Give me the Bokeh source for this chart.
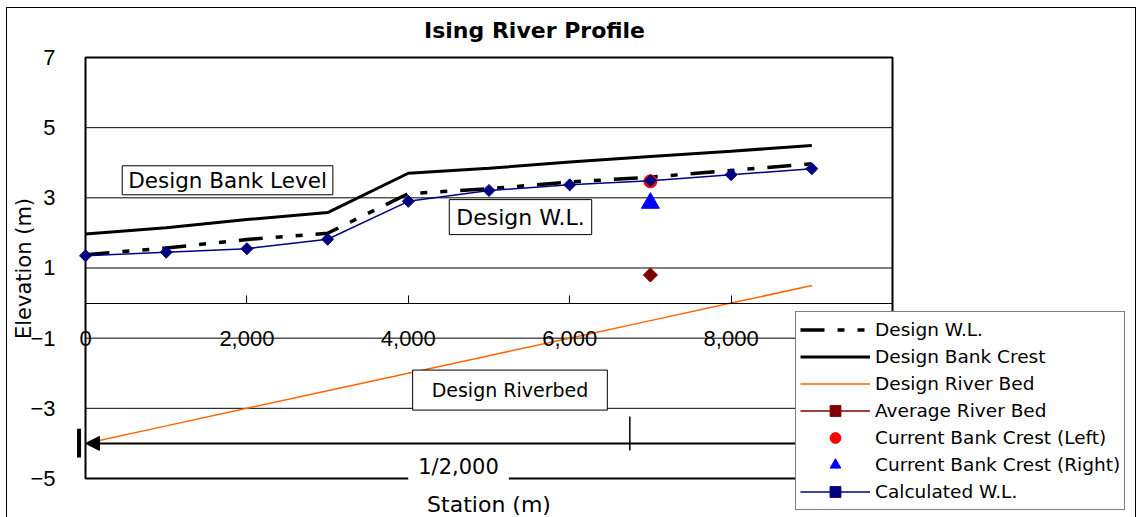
import numpy as np
from bokeh.plotting import figure
from bokeh.models import (Range1d, LinearAxis, FixedTicker, NumeralTickFormatter, Legend,
                          LegendItem, Label, Arrow, NormalHead)
from bokeh.embed import file_html
from bokeh.resources import INLINE

# ---------------- data ----------------
station = [0, 1000, 2000, 3000, 4000, 5000, 6000, 7000, 8000, 9000]
design_wl = [1.38, 1.57, 1.81, 1.99, 3.12, 3.26, 3.45, 3.59, 3.78, 3.97]
design_bank_crest = [1.97, 2.15, 2.38, 2.58, 3.70, 3.84, 4.02, 4.18, 4.33, 4.49]
design_river_bed = [-4.0, -3.5, -3.0, -2.5, -2.0, -1.5, -1.0, -0.5, 0.0, 0.5]
calculated_wl = [1.35, 1.45, 1.55, 1.82, 2.90, 3.21, 3.37, 3.49, 3.66, 3.83]

survey_station = [7000]
average_river_bed = [0.80]
current_bank_left = [3.47]
current_bank_right = [2.85]

x_ticks = [0, 2000, 4000, 6000, 8000, 10000]
y_ticks = [-5, -3, -1, 1, 3, 5, 7]
y_tick_labels = ["\u22125", "\u22123", "\u22121", "1", "3", "5", "7"]
grid_levels = [-3, -1, 1, 3, 5]

title_text = "Ising River Profile"
series_names = ["Design W.L.", "Design Bank Crest", "Design River Bed", "Average River Bed",
                "Current Bank Crest (Left)", "Current Bank Crest (Right)", "Calculated W.L."]

slope_text = "1/2,000"
slope_arrow_x = [8920, 0]
slope_arrow_y = -4
slope_bar_x = [-80]
slope_bar_y = [-3.58, -4.40]
slope_tick_x = [6745]
slope_tick_y = [-3.23, -4.2]

# Excel plot-area extent, drawn inside a wider frame
area_x = [0, 10000]
area_y = [-5, 7]

# ---------------- figure ----------------
p = figure(width=1128, height=509, output_backend="svg", toolbar_location=None,
           x_range=Range1d(-124, 13011), y_range=Range1d(-6.112, 8.083),
           x_axis_location=None, y_axis_location="left",
           min_border_left=68, min_border_right=0, min_border_top=11, min_border_bottom=0)
p.styles = {"margin-left": "7px", "margin-top": "8px", "outline": "1px solid black"}

p.background_fill_color = "white"
p.border_fill_color = "white"
p.outline_line_color = None

# y axis
yaxis = p.yaxis[0]
yaxis.ticker = FixedTicker(ticks=y_ticks)
yaxis.major_label_overrides = dict(zip(y_ticks, y_tick_labels))
yaxis.major_tick_in = 0
yaxis.major_tick_out = 0
yaxis.minor_tick_in = 0
yaxis.minor_tick_out = 0
yaxis.axis_line_color = None
yaxis.major_label_standoff = 20
yaxis.major_label_text_font = "Liberation Sans"
yaxis.major_label_text_font_size = "22px"
yaxis.major_label_text_color = "black"
yaxis.axis_label = "Elevation (m)"
yaxis.axis_label_text_font = "DejaVu Sans"
yaxis.axis_label_text_font_size = "21px"
yaxis.axis_label_text_font_style = "normal"
yaxis.axis_label_text_color = "black"
yaxis.axis_label_standoff = -9

p.xgrid.visible = False
p.ygrid.visible = False

# x axis crossing at elevation 0
xaxis = LinearAxis(fixed_location=0, ticker=FixedTicker(ticks=x_ticks),
                   formatter=NumeralTickFormatter(format="0,0"), bounds=(area_x[0], area_x[1]))
xaxis.major_tick_in = 8
xaxis.major_tick_out = 0
xaxis.minor_tick_in = 0
xaxis.minor_tick_out = 0
xaxis.axis_line_color = "black"
xaxis.axis_line_width = 1
xaxis.major_tick_line_color = "black"
xaxis.major_label_standoff = 28
xaxis.major_label_text_font = "Liberation Sans"
xaxis.major_label_text_font_size = "22px"
xaxis.major_label_text_color = "black"
p.add_layout(xaxis, "below")

# gridlines and plot-area border
p.segment(x0=[area_x[0]] * len(grid_levels), y0=grid_levels,
          x1=[area_x[1]] * len(grid_levels), y1=grid_levels,
          line_color="black", line_width=1)
p.quad(left=[area_x[0]], right=[area_x[1]], bottom=[area_y[0]], top=[area_y[1]],
       fill_alpha=0, line_color="black", line_width=2)

# ---------------- series ----------------
r_wl = p.line(station, design_wl, line_color="black", line_width=3.5,
              line_dash="24 13 7 13 7 13", line_cap="butt")
r_bank = p.line(station, design_bank_crest, line_color="black", line_width=3)
r_bed = p.line(station, design_river_bed, line_color="#FF6600", line_width=1.5)
r_avg_line = p.line(survey_station, average_river_bed, line_color="#800000", line_width=1.5)
r_avg = p.scatter(survey_station, average_river_bed, marker="square", angle=np.pi / 4,
                  size=10, color="#800000")
r_left = p.scatter(survey_station, current_bank_left, marker="circle", size=13, color="#FF0000")
r_right = p.scatter(survey_station, current_bank_right, marker="triangle", size=18, color="#0000FF")
r_calc_line = p.line(station, calculated_wl, line_color="#000080", line_width=1.5)
r_calc = p.scatter(station, calculated_wl, marker="square", angle=np.pi / 4, size=8.5,
                   color="#000080")

p.segment(x0=slope_tick_x, y0=[slope_tick_y[0]], x1=slope_tick_x, y1=[slope_tick_y[1]],
          line_color="black", line_width=1.5)
p.segment(x0=slope_bar_x, y0=[slope_bar_y[0]], x1=slope_bar_x, y1=[slope_bar_y[1]],
          line_color="black", line_width=4)

# ---------------- annotations ----------------
p.add_layout(Label(x=5564, y=7.76, text=title_text, text_align="center",
                   text_baseline="middle", text_font="DejaVu Sans", text_font_size="22px",
                   text_font_style="bold", text_color="black"))
p.add_layout(Label(x=1760, y=3.5, text="Design Bank Level", text_align="center",
                   text_baseline="middle", text_font="DejaVu Sans", text_font_size="21.5px",
                   text_color="black", border_line_color="black", border_line_width=1,
                   background_fill_color="white", padding=(6, 2)))
p.add_layout(Label(x=5390, y=2.45, text="Design W.L.", text_align="center",
                   text_baseline="middle", text_font="DejaVu Sans", text_font_size="22px",
                   text_color="black", border_line_color="black", border_line_width=1,
                   background_fill_color="white", padding=(7, 5)))
p.add_layout(Label(x=5260, y=-2.48, text="Design Riverbed", text_align="center",
                   text_baseline="middle", text_font="DejaVu Sans", text_font_size="19px",
                   text_color="black", border_line_color="black", border_line_width=1,
                   background_fill_color="white", padding=(19, 9)))

legend = Legend(items=[
    LegendItem(label=series_names[0], renderers=[r_wl]),
    LegendItem(label=series_names[1], renderers=[r_bank]),
    LegendItem(label=series_names[2], renderers=[r_bed]),
    LegendItem(label=series_names[3], renderers=[r_avg_line, r_avg]),
    LegendItem(label=series_names[4], renderers=[r_left]),
    LegendItem(label=series_names[5], renderers=[r_right]),
    LegendItem(label=series_names[6], renderers=[r_calc_line, r_calc]),
], location=(720, 7), glyph_width=70, glyph_height=27, label_height=27, spacing=0,
    padding=4, margin=0, label_standoff=5, border_line_color="black", border_line_width=1,
    background_fill_color="white", background_fill_alpha=1,
    label_text_font="DejaVu Sans", label_text_font_size="18.5px", label_text_color="black")
p.add_layout(legend, "center")

p.add_layout(Arrow(x_start=slope_arrow_x[0], y_start=slope_arrow_y,
                   x_end=slope_arrow_x[1], y_end=slope_arrow_y,
                   end=NormalHead(size=14, fill_color="black", line_color="black"),
                   line_color="black", line_width=2))

p.add_layout(Label(x=4622, y=-4.66, text=slope_text, text_align="center",
                   text_baseline="middle", text_font="DejaVu Sans", text_font_size="21px",
                   text_color="black", background_fill_color="white", padding=(10, 3)))
p.add_layout(Label(x=5000, y=-5.74, text="Station (m)", text_align="center",
                   text_baseline="middle", text_font="DejaVu Sans", text_font_size="22px",
                   text_color="black"))

open("out.html", "w").write(file_html(p, INLINE))
